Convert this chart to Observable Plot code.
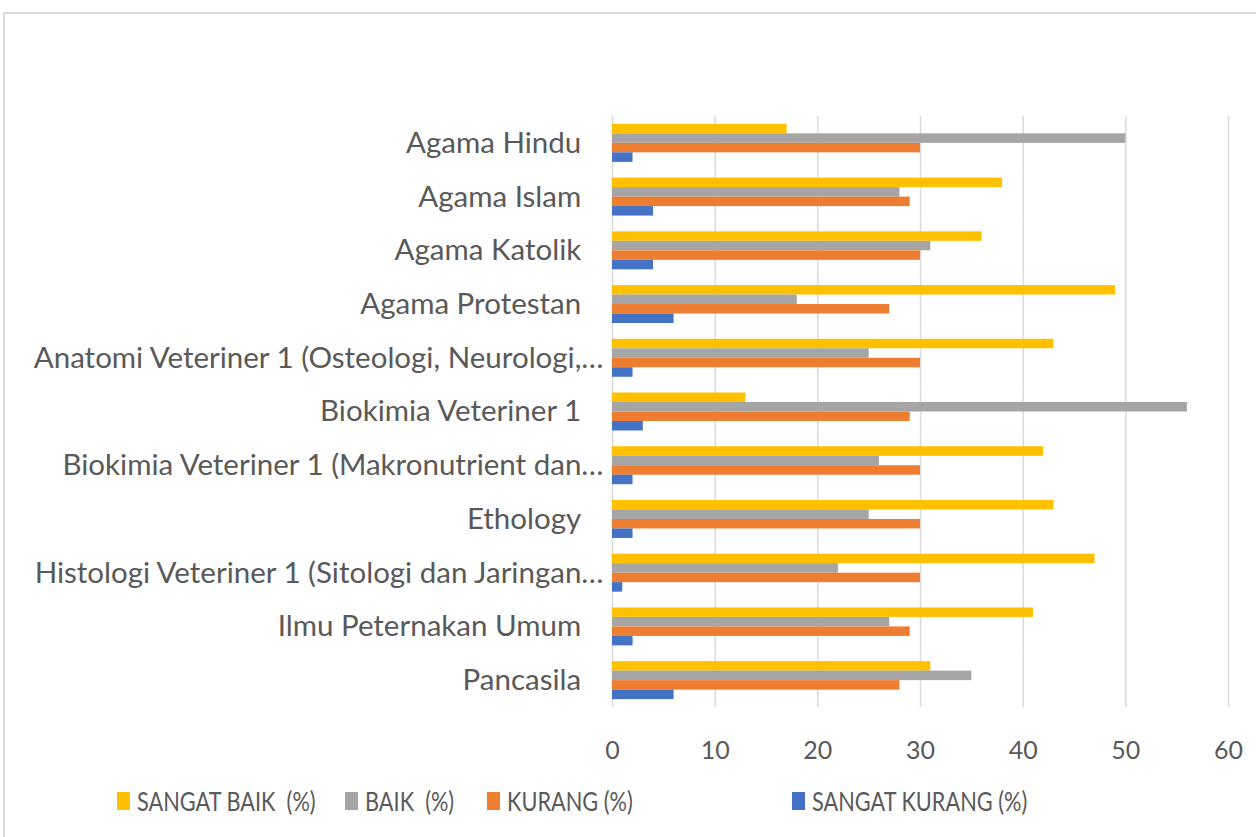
<!DOCTYPE html>
<html>
<head>
<meta charset="utf-8">
<script src="https://cdn.jsdelivr.net/npm/d3@7"></script>
<script src="https://cdn.jsdelivr.net/npm/@observablehq/plot@0.6"></script>
<style>
  html, body { margin: 0; padding: 0; background: #fff; }
  body { position: relative; width: 1256px; height: 837px; overflow: hidden; font-family: Lato, "Open Sans", sans-serif; }
  #frame { position: absolute; left: 3px; top: 12px; width: 1300px; height: 900px; border: 2px solid #D9D9D9; box-sizing: border-box; }
  #chart { position: absolute; left: 0; top: 0; }
  #chart g[aria-label^="fy-axis"], #chart g[aria-label^="fy-axis"] text { font-size: 29.5px; }
  #legend { position: absolute; left: 0; top: 0; width: 1256px; height: 837px; pointer-events: none; }
  .item { position: absolute; top: 786px; height: 30px; line-height: 30px; display: flex; align-items: center; color: #595959; font-size: 26.5px; white-space: pre; }
  .sw { width: 13px; height: 18px; margin-right: 7px; flex: none; }
  .lt { display: inline-block; transform: scaleX(0.82); transform-origin: left center; }
</style>
</head>
<body>
<div id="frame"></div>
<div id="chart"></div>
<div id="legend"></div>
<script>
const categories = [
  "Agama Hindu",
  "Agama Islam",
  "Agama Katolik",
  "Agama Protestan",
  "Anatomi Veteriner 1 (Osteologi, Neurologi,…",
  "Biokimia Veteriner 1",
  "Biokimia Veteriner 1 (Makronutrient dan…",
  "Ethology",
  "Histologi Veteriner 1 (Sitologi dan Jaringan…",
  "Ilmu Peternakan Umum",
  "Pancasila"
];
const series = ["SANGAT BAIK  (%)", "BAIK  (%)", "KURANG (%)", "SANGAT KURANG (%)"];
const colors = ["#FFC000", "#A5A5A5", "#ED7D31", "#4472C4"];
const sangatBaik   = [17, 38, 36, 49, 43, 13, 42, 43, 47, 41, 31];
const baik         = [50, 28, 31, 18, 25, 56, 26, 25, 22, 27, 35];
const kurang       = [30, 29, 30, 27, 30, 29, 30, 30, 30, 29, 28];
const sangatKurang = [ 2,  4,  4,  6,  2,  3,  2,  2,  1,  2,  6];
const xTicks = [0, 10, 20, 30, 40, 50, 60];

const valuesBySeries = [sangatBaik, baik, kurang, sangatKurang];
const rows = [];
categories.forEach((c, i) => {
  series.forEach((s, j) => rows.push({category: c, series: s, value: valuesBySeries[j][i]}));
});

const chart = Plot.plot({
  width: 1256,
  height: 770,
  marginTop: 116,
  marginBottom: 63,
  marginLeft: 612,
  marginRight: 28,
  style: {fontFamily: "Lato, 'Open Sans', sans-serif", fontSize: "25px", color: "#595959", background: "transparent", overflow: "visible"},
  facet: {data: rows, y: "category"},
  fy: {domain: categories, padding: 0, round: false, label: null, tickSize: 0, tickPadding: 9,
       tickFormat: d => d.endsWith("…") ? d : d + "\u2002\u00A0"},
  y: {domain: series, paddingInner: 0, paddingOuter: 0.83, round: false, axis: null},
  x: {domain: [0, 60], ticks: xTicks, tickSize: 0, tickPadding: 34, label: null},
  color: {domain: series, range: colors},
  marks: [
    Plot.ruleX(xTicks, {stroke: "#D9D9D9", strokeWidth: 1.5, strokeOpacity: 1}),
    Plot.barX(rows, {x: "value", y: "series", fill: "series", insetTop: 0, insetBottom: 0})
  ]
});
document.getElementById("chart").appendChild(chart);

const legendLefts = [117, 345, 487, 792];
const legend = document.getElementById("legend");
series.forEach((s, j) => {
  const item = document.createElement("div");
  item.className = "item";
  item.style.left = legendLefts[j] + "px";
  const sw = document.createElement("span");
  sw.className = "sw";
  sw.style.background = colors[j];
  const t = document.createElement("span");
  t.className = "lt";
  t.textContent = s;
  item.appendChild(sw);
  item.appendChild(t);
  legend.appendChild(item);
});
</script>
</body>
</html>
